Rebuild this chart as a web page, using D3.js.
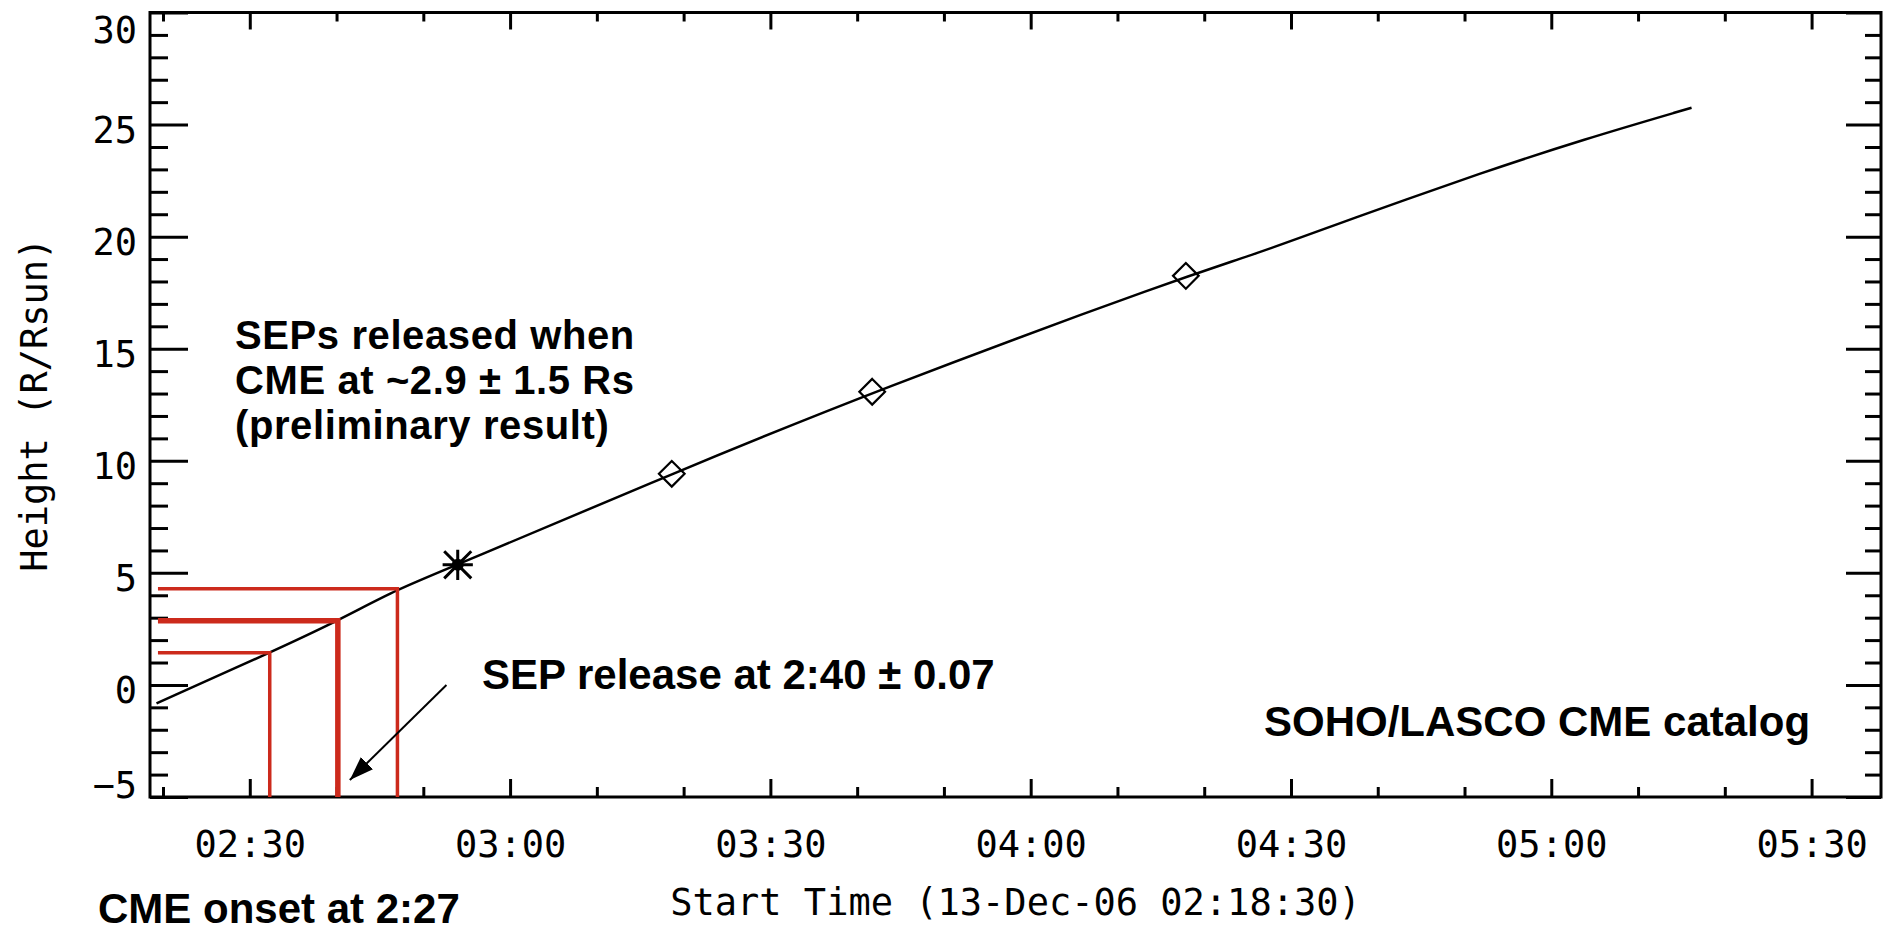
<!DOCTYPE html>
<html>
<head>
<meta charset="utf-8">
<script src="https://cdn.jsdelivr.net/npm/d3@7"></script>
<style>
  html, body { margin: 0; padding: 0; background: #fff; }
  .idl { font-family: 'DejaVu Sans Mono', monospace; font-size: 37px; fill: #000; }
  .note { font-family: 'Liberation Sans', Arial, sans-serif; font-weight: bold; font-size: 42px; fill: #000; }
</style>
</head>
<body>
<div id="App"></div>
<script>
// height-time fit of the CME front
const fitTimes = ['02:19:15', '02:32:18', '02:40:09', '02:47:01', '02:53:58', '03:18:38',
  '03:41:44', '04:17:53', '04:25:16', '04:37:46', '04:52:07', '05:03:38', '05:16:10'];
const fitHeights = [-0.82, 1.44, 2.86, 4.29, 5.36, 9.42, 13.08, 18.25, 19.12, 20.91, 22.87, 24.33, 25.75];

// measured points
const starTimes = ['02:53:58'];
const starHeights = [5.36];
const diamondTimes = ['03:18:38', '03:41:44', '04:17:53'];
const diamondHeights = [9.42, 13.08, 18.25];

// SEP release estimate (low, best, high)
const releaseTimes = ['02:32:18', '02:40:09', '02:47:01'];
const releaseHeights = [1.44, 2.86, 4.29];
const releaseLineStart = '02:19:25';

// arrow pointing at the release time
const arrowFrom = ['02:52:40', 0.0];
const arrowTo = ['02:41:32', -4.24];

const yMajorTicks = [-5, 0, 5, 10, 15, 20, 25, 30];
const yMinorTicks = d3.range(-5, 31).filter(v => v % 5 !== 0);

const timeDomain = ['02:18:30', '05:38:00'];
const heightDomain = [-5, 30];

const parse = d3.timeParse('%Y-%m-%d %H:%M:%S');
const t = s => parse('2006-12-13 ' + s);

const width = 1892;
const height = 932;
const plot = { left: 150, right: 1881, top: 12.5, bottom: 797 };

const svg = d3.select('#App').append('svg')
  .attr('width', width)
  .attr('height', height)
  .attr('viewBox', `0 0 ${width} ${height}`);

const x = d3.scaleTime().domain(timeDomain.map(t)).range([plot.left, plot.right]);
const y = d3.scaleLinear().domain(heightDomain).range([plot.bottom, plot.top]);

const xMajor = x.ticks(d3.timeMinute.every(30));
const xMinor = x.ticks(d3.timeMinute.every(10)).filter(d => d.getMinutes() % 30 !== 0);

const styleAxis = g => {
  g.select('.domain').remove();
  g.selectAll('line').attr('stroke', '#000').attr('stroke-width', 3);
};

// left axis, labels outside, ticks inward
svg.append('g')
  .attr('transform', `translate(${plot.left},0)`)
  .call(d3.axisLeft(y).tickValues(yMajorTicks).tickSize(-38).tickPadding(13)
    .tickFormat(d => d < 0 ? '\u2212' + Math.abs(d) : d))
  .call(styleAxis)
  .call(g => g.selectAll('text')
    .attr('class', 'idl')
    .attr('font-size', null).attr('font-family', null)
    .attr('dy', null)
    .attr('y', d => Math.min(Math.max(y(d) + 18, 42), plot.bottom) - y(d)));

svg.append('g')
  .attr('transform', `translate(${plot.left},0)`)
  .call(d3.axisLeft(y).tickValues(yMinorTicks).tickSize(-18).tickFormat(''))
  .call(styleAxis);

// right axis, ticks only
svg.append('g')
  .attr('transform', `translate(${plot.right},0)`)
  .call(d3.axisRight(y).tickValues(yMajorTicks).tickSize(-35).tickFormat(''))
  .call(styleAxis);
svg.append('g')
  .attr('transform', `translate(${plot.right},0)`)
  .call(d3.axisRight(y).tickValues(yMinorTicks).tickSize(-16).tickFormat(''))
  .call(styleAxis);

// bottom axis
svg.append('g')
  .attr('transform', `translate(0,${plot.bottom})`)
  .call(d3.axisBottom(x).tickValues(xMajor).tickSize(-18).tickFormat(d3.timeFormat('%H:%M')))
  .call(styleAxis)
  .call(g => g.selectAll('text')
    .attr('class', 'idl')
    .attr('font-size', null).attr('font-family', null)
    .attr('dy', null)
    .attr('y', 60));
svg.append('g')
  .attr('transform', `translate(0,${plot.bottom})`)
  .call(d3.axisBottom(x).tickValues(xMinor).tickSize(-10).tickFormat(''))
  .call(styleAxis);

// top axis, ticks only
svg.append('g')
  .attr('transform', `translate(0,${plot.top})`)
  .call(d3.axisTop(x).tickValues(xMajor).tickSize(-17).tickFormat(''))
  .call(styleAxis);
svg.append('g')
  .attr('transform', `translate(0,${plot.top})`)
  .call(d3.axisTop(x).tickValues(xMinor).tickSize(-9).tickFormat(''))
  .call(styleAxis);

// frame
svg.append('rect')
  .attr('x', plot.left).attr('y', plot.top)
  .attr('width', plot.right - plot.left).attr('height', plot.bottom - plot.top)
  .attr('fill', 'none').attr('stroke', '#000').attr('stroke-width', 3);

// axis titles
svg.append('text')
  .attr('class', 'idl')
  .attr('x', (plot.left + plot.right) / 2)
  .attr('y', 915)
  .attr('text-anchor', 'middle')
  .text('Start Time (13-Dec-06 02:18:30)');

svg.append('text')
  .attr('class', 'idl')
  .attr('font-size', 36)
  .attr('transform', `translate(47,${(plot.top + plot.bottom) / 2}) rotate(-90)`)
  .attr('text-anchor', 'middle')
  .text('Height (R/Rsun)');

// fitted height-time line
const fit = fitTimes.map((s, i) => ({ time: t(s), h: fitHeights[i] }));
svg.append('path')
  .datum(fit)
  .attr('fill', 'none')
  .attr('stroke', '#000')
  .attr('stroke-width', 2.5)
  .attr('d', d3.line().x(d => x(d.time)).y(d => y(d.h)).curve(d3.curveBasis));

// markers
const stars = starTimes.map((s, i) => ({ time: t(s), h: starHeights[i] }));
const starG = svg.selectAll('g.star').data(stars).enter().append('g')
  .attr('class', 'star')
  .attr('transform', d => `translate(${x(d.time)},${y(d.h)})`);
starG.append('path')
  .attr('d', d3.symbol().type(d3.symbolPlus).size(300))
  .attr('fill', 'none').attr('stroke', '#000').attr('stroke-width', 3);
starG.append('path')
  .attr('d', d3.symbol().type(d3.symbolTimes).size(480))
  .attr('fill', 'none').attr('stroke', '#000').attr('stroke-width', 3);
starG.append('circle').attr('r', 6).attr('fill', '#000');

const diamonds = diamondTimes.map((s, i) => ({ time: t(s), h: diamondHeights[i] }));
svg.selectAll('path.diamond').data(diamonds).enter().append('path')
  .attr('class', 'diamond')
  .attr('transform', d => `translate(${x(d.time)},${y(d.h)})`)
  .attr('d', d3.symbol().type(d3.symbolDiamond2).size(420))
  .attr('fill', 'none').attr('stroke', '#000').attr('stroke-width', 2.2);

// red release-time guides
const red = '#cc2a1c';
const releases = releaseTimes.map((s, i) => ({ time: t(s), h: releaseHeights[i], best: i === 1 }));
const relG = svg.append('g');
relG.selectAll('line.h').data(releases).enter().append('line')
  .attr('x1', x(t(releaseLineStart)))
  .attr('x2', d => x(d.time))
  .attr('y1', d => y(d.h)).attr('y2', d => y(d.h))
  .attr('stroke', red)
  .attr('stroke-width', d => d.best ? 5.5 : 3.5);
relG.selectAll('line.v').data(releases).enter().append('line')
  .attr('x1', d => x(d.time)).attr('x2', d => x(d.time))
  .attr('y1', d => y(d.h) - (d.best ? 2.75 : 1.75))
  .attr('y2', y(heightDomain[0]))
  .attr('stroke', red)
  .attr('stroke-width', d => d.best ? 5.5 : 3.5);

// arrow
svg.append('defs').append('marker')
  .attr('id', 'head')
  .attr('viewBox', '0 -5 10 10')
  .attr('refX', 10).attr('refY', 0)
  .attr('markerUnits', 'userSpaceOnUse')
  .attr('markerWidth', 24).attr('markerHeight', 24)
  .attr('orient', 'auto')
  .append('path')
  .attr('d', 'M0,-3.6L10,0L0,3.6Z')
  .attr('fill', '#000');

svg.append('line')
  .attr('x1', x(t(arrowFrom[0]))).attr('y1', y(arrowFrom[1]))
  .attr('x2', x(t(arrowTo[0]))).attr('y2', y(arrowTo[1]))
  .attr('stroke', '#000').attr('stroke-width', 2)
  .attr('marker-end', 'url(#head)');

// annotations; the three-line block is a touch smaller so its lines don't collide
const notes = [
  { lines: ['SEPs released when', 'CME at ~2.9 \u00b1 1.5 Rs', '(preliminary result)'], x: 235, y: [349, 394, 439], size: 40 },
  { lines: ['SEP release at 2:40 \u00b1 0.07'], x: 482, y: [689], size: 42 },
  { lines: ['SOHO/LASCO CME catalog'], x: 1264, y: [736], size: 42 },
  { lines: ['CME onset at 2:27'], x: 98, y: [923], size: 42 }
];
svg.selectAll('text.note').data(notes).enter().append('text')
  .attr('class', 'note')
  .style('font-size', d => d.size + 'px')
  .style('letter-spacing', d => d.size < 42 ? '0.6px' : null)
  .each(function(d) {
    d3.select(this).selectAll('tspan')
      .data(d.lines.map((l, i) => ({ l, y: d.y[i] })))
      .enter().append('tspan')
      .attr('x', d.x)
      .attr('y', e => e.y)
      .text(e => e.l);
  });
</script>
</body>
</html>
